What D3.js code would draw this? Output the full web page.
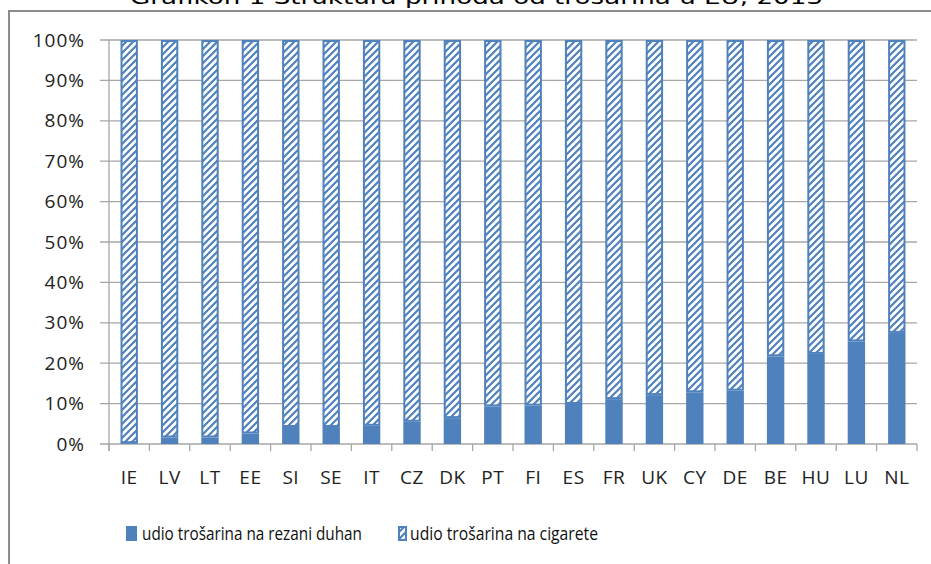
<!DOCTYPE html>
<html><head><meta charset="utf-8">
<script src="https://cdn.jsdelivr.net/npm/d3@7/dist/d3.min.js"></script>
<style>
body{margin:0;background:#fff;}
svg{display:block;}
</style></head>
<body>
<svg id="c" width="931" height="564"></svg>
<script>
const titleText = "Grafikon 1 Struktura prihoda od trošarina u EU, 2013";
const categories = ["IE","LV","LT","EE","SI","SE","IT","CZ","DK","PT","FI","ES","FR","UK","CY","DE","BE","HU","LU","NL"];
const rezaniDuhan = [0.2,1.6,1.6,2.6,4.2,4.2,4.5,5.5,6.4,9.3,9.5,9.9,11.1,12.1,12.8,13.2,21.7,22.3,25.4,27.5];
const cigarete = [99.8,98.4,98.4,97.4,95.8,95.8,95.5,94.5,93.6,90.7,90.5,90.1,88.9,87.9,87.2,86.8,78.3,77.7,74.6,72.5];
const yTicks = [0,10,20,30,40,50,60,70,80,90,100];
const seriesNames = ["udio trošarina na rezani duhan","udio trošarina na cigarete"];

const blue = "#4F81BD";
const grid = "#a6a6a6";
const svg = d3.select("#c");

// hatch pattern
const defs = svg.append("defs");
const pat = defs.append("pattern").attr("id","hatch").attr("patternUnits","userSpaceOnUse")
  .attr("width",7).attr("height",7);
pat.append("rect").attr("width",7).attr("height",7).attr("fill","#fff");
pat.append("path").attr("d","M-1,1 l2,-2 M0,7 l7,-7 M6,8 l2,-2")
  .attr("stroke",blue).attr("stroke-width",2.2);

// border
svg.append("path").attr("d","M9,564 V11 H931").attr("fill","none").attr("stroke","#8c8c8c").attr("stroke-width",2);

// title (cut off at top)
svg.append("text").attr("x",476.5).attr("y",4).attr("text-anchor","middle")
  .attr("font-family","DejaVu Sans, Verdana, sans-serif").attr("font-size",20)
  .attr("textLength",693).attr("lengthAdjust","spacingAndGlyphs")
  .attr("fill","#000").text(titleText);

const x = d3.scaleBand().domain(categories).range([109,917]).paddingInner(0.57).paddingOuter(0.285);
const y = d3.scaleLinear().domain([0,100]).range([444,40]);

// gridlines
svg.append("g").selectAll("line").data(yTicks).join("line")
  .attr("x1",100).attr("x2",917).attr("y1",d=>y(d)).attr("y2",d=>y(d))
  .attr("stroke",grid).attr("stroke-width",1.3);

// y axis line
svg.append("line").attr("x1",109).attr("x2",109).attr("y1",y(100)).attr("y2",451)
  .attr("stroke",grid).attr("stroke-width",1.3);

// x ticks at band boundaries
const step = x.step();
const bounds = categories.map((c,i)=>x.range()[0]+i*step).concat([x.range()[1]]);
svg.append("g").selectAll("line").data(bounds).join("line")
  .attr("x1",d=>d).attr("x2",d=>d).attr("y1",444).attr("y2",451)
  .attr("stroke",grid).attr("stroke-width",1.3);

// y labels
svg.append("g").selectAll("text").data(yTicks).join("text")
  .attr("x",85).attr("y",d=>y(d)).attr("dy","0.35em").attr("text-anchor","end")
  .attr("font-family","Open Sans, sans-serif").attr("font-size",19).attr("letter-spacing",1)
  .attr("fill","#222").text(d=>d+"%");

// x labels
svg.append("g").selectAll("text").data(categories).join("text")
  .attr("x",d=>x(d)+x.bandwidth()/2).attr("y",484).attr("text-anchor","middle")
  .attr("font-family","Open Sans, sans-serif").attr("font-size",19).attr("letter-spacing",0.5)
  .attr("fill","#222").text(d=>d);

// bars
const bw = x.bandwidth();
const bars = svg.append("g");
categories.forEach((c,i)=>{
  const v1 = rezaniDuhan[i], v2 = cigarete[i];
  // hatched top
  bars.append("rect").attr("x",x(c)+1).attr("y",y(v1+v2)+1).attr("width",bw-2)
    .attr("height",Math.max(0,y(v1)-y(v1+v2)-2))
    .attr("fill","url(#hatch)").attr("stroke",blue).attr("stroke-width",2);
  // solid bottom
  bars.append("rect").attr("x",x(c)).attr("y",y(v1)).attr("width",bw)
    .attr("height",y(0)-y(v1)).attr("fill",blue);
});

// legend
const leg = svg.append("g");
leg.append("rect").attr("x",126).attr("y",526).attr("width",11).attr("height",15).attr("fill",blue);
leg.append("text").attr("x",142).attr("y",540).attr("font-family","Liberation Sans Narrow, Open Sans, sans-serif")
  .attr("font-size",19).attr("textLength",220).attr("lengthAdjust","spacingAndGlyphs")
  .attr("fill","#111").text(seriesNames[0]);
leg.append("rect").attr("x",399).attr("y",527).attr("width",7).attr("height",13)
  .attr("fill","url(#hatch)").attr("stroke",blue).attr("stroke-width",2);
leg.append("text").attr("x",410).attr("y",540).attr("font-family","Liberation Sans Narrow, Open Sans, sans-serif")
  .attr("font-size",19).attr("textLength",188).attr("lengthAdjust","spacingAndGlyphs")
  .attr("fill","#111").text(seriesNames[1]);
</script>
</body></html>
